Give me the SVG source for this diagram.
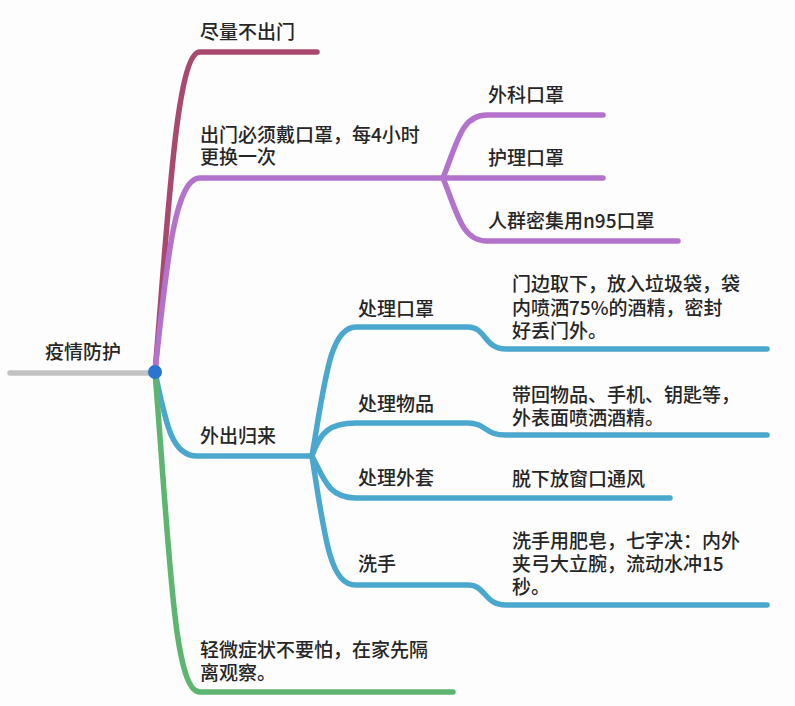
<svg xmlns="http://www.w3.org/2000/svg" width="795" height="706" viewBox="0 0 795 706">
<style>
.t{font-family:"Noto Sans CJK SC","Noto Sans",sans-serif;font-size:19px;font-weight:500;fill:#262626}
.l{fill:none;stroke-width:5.5;stroke-linecap:round;stroke-linejoin:round}
.mg{stroke:#a9496f}
.pu{stroke:#b373cc}
.bl{stroke:#4aa7cd}
.gr{stroke:#5db56f}
.gy{stroke:#c2c2c2}
</style>
<rect width="795" height="706" fill="#fdfdfd"/>
<g id="connectors">
<path class="l gy" d="M10,373 L155,373"/>
<path class="l mg" d="M155,372 C168,220 176,52 200,52 L317,52"/>
<path class="l pu" d="M155,372 C166,270 174,178 200,178 L603,178"/>
<path class="l pu" d="M443,178 C458,140 462,115 487,115 L603,115"/>
<path class="l pu" d="M443,178 C458,215 462,241 487,241 L678,241"/>
<path class="l bl" d="M155,372 C166,425 172,456 197,456 L312,456"/>
<path class="l gr" d="M155,372 C170,560 174,692 200,692 L453,692"/>
<path class="l bl" d="M312,456 C325,380 330,327 356,327 L468,327 C486,327 484,349 506,349 L767,349"/>
<path class="l bl" d="M312,456 C320,432 330,423 356,423 L468,423 C486,423 484,435 506,435 L767,435"/>
<path class="l bl" d="M312,456 C325,482 330,498 356,498 L670,498"/>
<path class="l bl" d="M312,456 C325,540 330,585 356,585 L468,585 C486,585 484,605 506,605 L767,605"/>
</g>
<g id="root">
<circle cx="155" cy="372" r="7" fill="#2b74d2"/>
<text class="t" x="45" y="359">疫情防护</text>
</g>
<g id="n1"><text class="t" x="200" y="39">尽量不出门</text></g>
<g id="n2"><text class="t" x="200" y="142">出门必须戴口罩，每4小时</text><text class="t" x="200" y="164">更换一次</text></g>
<g id="n2a"><text class="t" x="488" y="102">外科口罩</text></g>
<g id="n2b"><text class="t" x="488" y="165">护理口罩</text></g>
<g id="n2c"><text class="t" x="488" y="228">人群密集用n95口罩</text></g>
<g id="n3"><text class="t" x="200" y="443">外出归来</text></g>
<g id="n3a"><text class="t" x="358" y="316">处理口罩</text></g>
<g id="n3a1"><text class="t" x="512" y="291">门边取下，放入垃圾袋，袋</text><text class="t" x="512" y="315">内喷洒75%的酒精，密封</text><text class="t" x="512" y="338">好丢门外。</text></g>
<g id="n3b"><text class="t" x="358" y="411">处理物品</text></g>
<g id="n3b1"><text class="t" x="512" y="402">带回物品、手机、钥匙等，</text><text class="t" x="512" y="425">外表面喷洒酒精。</text></g>
<g id="n3c"><text class="t" x="358" y="485">处理外套</text></g>
<g id="n3c1"><text class="t" x="512" y="486">脱下放窗口通风</text></g>
<g id="n3d"><text class="t" x="358" y="571">洗手</text></g>
<g id="n3d1"><text class="t" x="512" y="548">洗手用肥皂，七字决：内外</text><text class="t" x="512" y="571">夹弓大立腕，流动水冲15</text><text class="t" x="512" y="594">秒。</text></g>
<g id="n4"><text class="t" x="200" y="657">轻微症状不要怕，在家先隔</text><text class="t" x="200" y="680">离观察。</text></g>
</svg>
